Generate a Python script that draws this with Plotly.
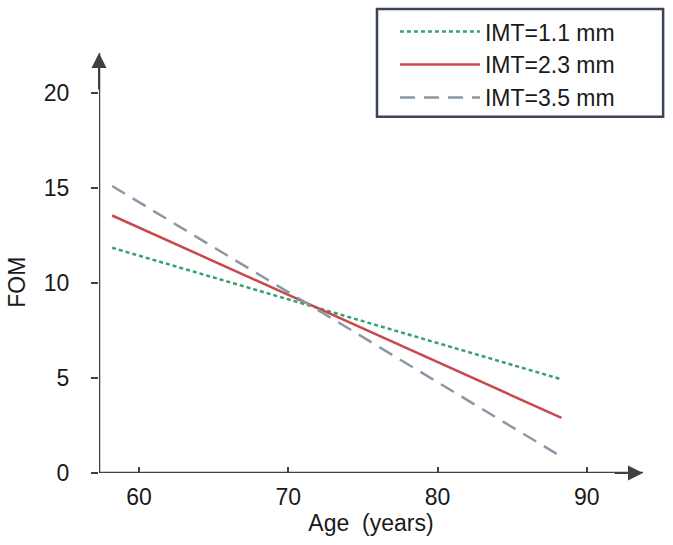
import plotly.graph_objects as go

# Data
age = [58.2, 88.3]
fom_imt_1_1 = [11.85, 4.93]
fom_imt_2_3 = [13.55, 2.90]
fom_imt_3_5 = [15.10, 0.85]
x_ticks = [60, 70, 80, 90]
y_ticks = [0, 5, 10, 15, 20]

series = [
    ("IMT=1.1 mm", fom_imt_1_1, dict(color="#3aa06e", width=2.5, dash="4px,3px")),
    ("IMT=2.3 mm", fom_imt_2_3, dict(color="#c8484e", width=2.5)),
    ("IMT=3.5 mm", fom_imt_3_5, dict(color="#8a98a6", width=2.5, dash="15px,9px")),
]

FONT = "Liberation Sans, Arial, sans-serif"
AX = "#404040"
XMIN, XMAX = 57.32, 93.76
YMIN, YMAX = 0.0, 22.1

fig = go.Figure()
for name, vals, line in series:
    fig.add_trace(go.Scatter(x=age, y=vals, mode="lines", name=name, line=line))

fig.update_layout(
    width=673, height=545,
    margin=dict(l=99, r=30, t=53, b=72, autoexpand=False),
    paper_bgcolor="white", plot_bgcolor="white",
    font=dict(family=FONT, size=23, color="#1a1a1a"),
    showlegend=True,
    legend=dict(
        x=0.544, y=1.102, xanchor="left", yanchor="top",
        borderwidth=0, bgcolor="rgba(0,0,0,0)",
        font=dict(size=23, family=FONT),
        itemwidth=80, tracegroupgap=0,
    ),
)
fig.update_xaxes(
    range=[XMIN, XMAX], tickvals=x_ticks, ticks="inside", ticklen=6,
    tickwidth=2, tickcolor=AX, showgrid=False, zeroline=False, showline=False,
    tickfont=dict(size=23), ticklabelstandoff=8, automargin=False,
    title=dict(text="Age  (years)", font=dict(size=23), standoff=2),
)
fig.update_yaxes(
    range=[YMIN, YMAX], tickvals=y_ticks, ticks="outside", ticklen=7,
    tickwidth=2, tickcolor=AX, showgrid=False, zeroline=False, showline=False,
    tickfont=dict(size=23), ticklabelstandoff=17, automargin=False,
)
# y-axis title
fig.add_annotation(text="FOM", xref="paper", yref="paper", x=-0.151, y=0.455,
                   textangle=-90, showarrow=False, font=dict(size=23),
                   xanchor="center", yanchor="middle")
# legend frame
fig.add_shape(type="rect", xref="paper", yref="paper", x0=0.511, x1=1.037,
              y0=0.848, y1=1.105, line=dict(color="#3a4556", width=2.5),
              fillcolor="rgba(0,0,0,0)")
# axis lines
fig.add_shape(type="line", xref="x", yref="y", x0=56.78, x1=XMAX, y0=0, y1=0,
              line=dict(color=AX, width=2.5))
fig.add_shape(type="line", xref="x", yref="y", x0=XMIN, x1=XMIN, y0=-0.37, y1=YMAX,
              line=dict(color=AX, width=2.5))
# arrowheads
fig.add_annotation(x=XMAX, y=0, ax=XMAX - 2, ay=0, xref="x", yref="y",
                   axref="x", ayref="y", showarrow=True, arrowhead=2,
                   arrowsize=1.5, arrowwidth=2, arrowcolor=AX, text="")
fig.add_annotation(x=XMIN, y=YMAX, ax=XMIN, ay=YMAX - 2, xref="x", yref="y",
                   axref="x", ayref="y", showarrow=True, arrowhead=2,
                   arrowsize=1.5, arrowwidth=2, arrowcolor=AX, text="")

fig.write_html("out.html", config={"displayModeBar": False},
               post_script="document.body.style.margin='0';")
